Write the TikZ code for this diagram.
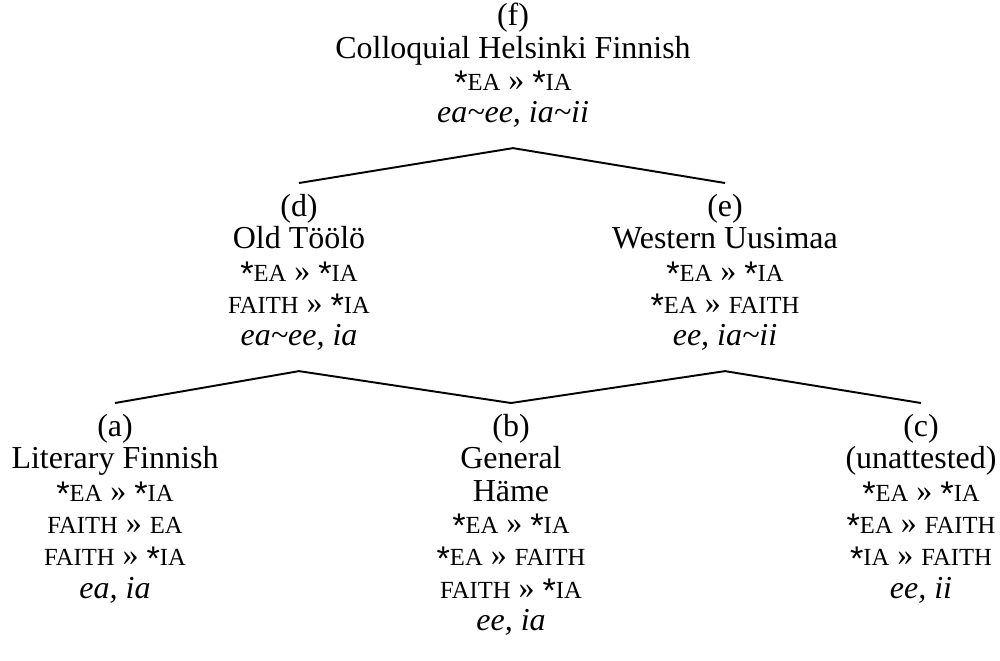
\documentclass[tikz,border=0pt]{standalone}
\usepackage{fontspec}
\setmainfont{Liberation Serif}
\newfontfamily\starfont{Liberation Sans}
\usetikzlibrary{positioning, calc}

% constraint notation
\newcommand{\cst}{{\starfont\fontsize{19.5}{19.5}\selectfont\raisebox{-2.5pt}{*}}}
\newcommand{\smc}[1]{{\fontsize{14}{14}\selectfont #1}}
\newcommand{\dom}{»}

\begin{document}
\begin{tikzpicture}[x=0.02cm, y=-0.02cm,
	lang/.style={align=center, inner sep=0pt, anchor=north,
		font=\fontsize{18.2}{18.4}\selectfont},
	branch/.style={line width=1.1pt}]
	\useasboundingbox (0,0) rectangle (1000,660);

	% top of the tree
	\node[lang] (f) at (513,3) {(f)\\Colloquial Helsinki Finnish\\
		\cst\smc{EA} \dom{} \cst\smc{IA}\\
		\textit{ea\textasciitilde ee, ia\textasciitilde ii}};

	% middle row
	\node[lang] (d) at (299,194) {(d)\\Old Töölö\\
		\cst\smc{EA} \dom{} \cst\smc{IA}\\
		\smc{FAITH} \dom{} \cst\smc{IA}\\
		\textit{ea\textasciitilde ee, ia}};
	\node[lang] (e) at (725,194) {(e)\\Western Uusimaa\\
		\cst\smc{EA} \dom{} \cst\smc{IA}\\
		\cst\smc{EA} \dom{} \smc{FAITH}\\
		\textit{ee, ia\textasciitilde ii}};

	% bottom row
	\node[lang] (a) at (115,414) {(a)\\Literary Finnish\\
		\cst\smc{EA} \dom{} \cst\smc{IA}\\
		\smc{FAITH} \dom{} \smc{EA}\\
		\smc{FAITH} \dom{} \cst\smc{IA}\\
		\textit{ea, ia}};
	\node[lang] (b) at (511,414) {(b)\\General\\Häme\\
		\cst\smc{EA} \dom{} \cst\smc{IA}\\
		\cst\smc{EA} \dom{} \smc{FAITH}\\
		\smc{FAITH} \dom{} \cst\smc{IA}\\
		\textit{ee, ia}};
	\node[lang] (c) at (921,414) {(c)\\(unattested)\\
		\cst\smc{EA} \dom{} \cst\smc{IA}\\
		\cst\smc{EA} \dom{} \smc{FAITH}\\
		\cst\smc{IA} \dom{} \smc{FAITH}\\
		\textit{ee, ii}};

	% branches
	\foreach \p/\c in {f/d, f/e, d/a, d/b, e/b, e/c}
		\draw[branch] ([yshift=-0.4cm]\p.south) -- ([yshift=0.22cm]\c.north);
\end{tikzpicture}
\end{document}
